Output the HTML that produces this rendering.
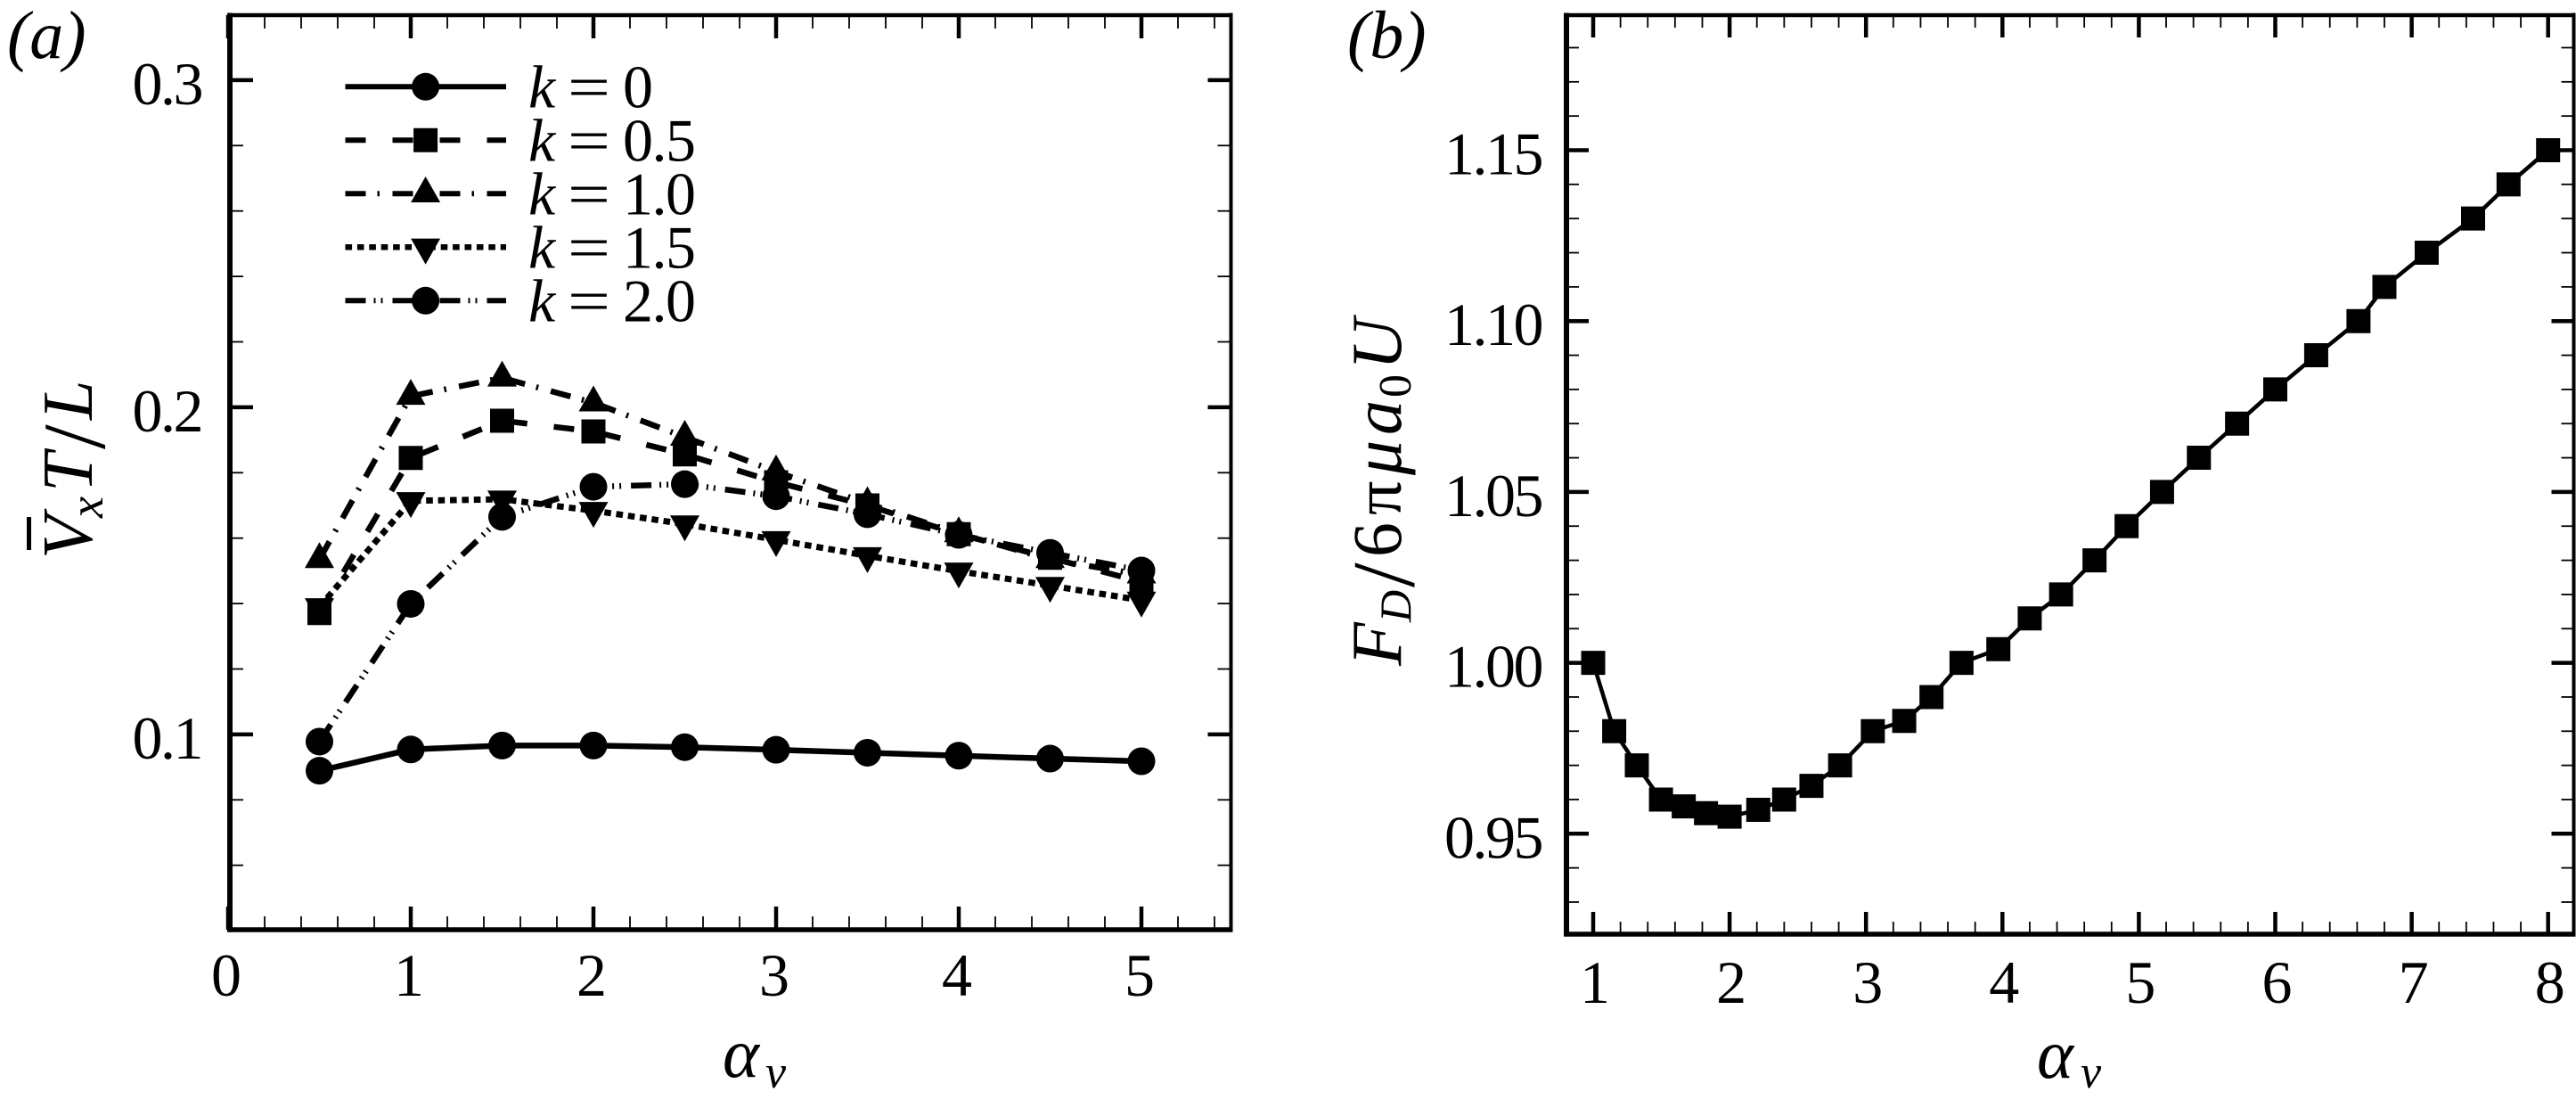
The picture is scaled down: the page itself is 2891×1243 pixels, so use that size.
<!DOCTYPE html>
<html lang="en">
<head>
<meta charset="utf-8">
<title>Swimmer velocity and drag versus alpha</title>
<style>
html,body{margin:0;padding:0;background:#fff;}
#figure{display:block;width:2891px;height:1243px;background:#fff;}
text{font-family:"Liberation Serif",serif;fill:#000;}
.it{font-style:italic;}
</style>
</head>
<body>
<svg id="figure" xmlns="http://www.w3.org/2000/svg" width="2891" height="1243" viewBox="0 0 2891 1243">
  <text class="it" x="8" y="65" font-size="76">(a)</text>
  <text class="it" x="1512" y="65" font-size="76">(b)</text>

  <g>
    <text class="it" x="811" y="1208" font-size="78">α</text>
    <text class="it" x="859" y="1220" font-size="52">v</text>
  </g>
  <g>
    <text class="it" x="2286" y="1209" font-size="78">α</text>
    <text class="it" x="2335" y="1220" font-size="52">v</text>
  </g>

  <g transform="translate(103,623) rotate(-90)">
    <text class="it" x="-4" y="0" font-size="80">V</text>
    <rect x="6" y="-73" width="37" height="5" fill="#000"></rect>
    <text class="it" x="42" y="12" font-size="54">x</text>
    <text class="it" x="71" y="0" font-size="80">T</text>
    <text x="119" y="14" font-size="100">/</text>
    <text class="it" x="152" y="0" font-size="80">L</text>
  </g>

  <g transform="translate(1572,749) rotate(-90)">
    <text class="it" x="2" y="0" font-size="80">F</text>
    <text class="it" x="51" y="11" font-size="50">D</text>
    <text x="90" y="14.5" font-size="100">/</text>
    <text x="124" y="0" font-size="78">6</text>
    <text x="171" y="0" font-size="76">π</text>
    <text class="it" x="216" y="0" font-size="78">μ</text>
    <text class="it" x="261" y="0" font-size="78">a</text>
    <text x="303" y="11" font-size="52">0</text>
    <text class="it" x="334" y="0" font-size="80">U</text>
  </g>

  <g id="panel-a"></g>
  <g id="panel-b"></g>
  <g id="legend"></g>
</svg>

<script>
// Panel (a) data
const alphaA = [0.5, 1, 1.5, 2, 2.5, 3, 3.5, 4, 4.5, 5];
const velocityK0  = [0.0889, 0.0954, 0.0966, 0.0966, 0.0961, 0.0953, 0.0944, 0.0935, 0.0926, 0.0918];
const velocityK05 = [0.1371, 0.1845, 0.1959, 0.1926, 0.1856, 0.1771, 0.1700, 0.1612, 0.1540, 0.1466];
const velocityK10 = [0.1535, 0.2034, 0.2090, 0.2014, 0.1909, 0.1803, 0.1706, 0.1614, 0.1535, 0.1488];
const velocityK15 = [0.1390, 0.1714, 0.1719, 0.1684, 0.1643, 0.1595, 0.1546, 0.1499, 0.1455, 0.1410];
const velocityK20 = [0.0978, 0.1399, 0.1665, 0.1757, 0.1765, 0.1728, 0.1673, 0.1610, 0.1555, 0.1501];
const legendLabels = ["0", "0.5", "1.0", "1.5", "2.0"];
const xTicksA = ["0", "1", "2", "3", "4", "5"];
const yTicksA = ["0.1", "0.2", "0.3"];

// Panel (b) data
const alphaB = [1.0, 1.154, 1.32, 1.497, 1.664, 1.827, 2.0, 2.21, 2.40, 2.60, 2.81, 3.05, 3.28, 3.48, 3.70, 3.97, 4.20, 4.43, 4.675, 4.91, 5.17, 5.44, 5.72, 6.0, 6.30, 6.61, 6.80, 7.11, 7.45, 7.71, 8.0];
const dragB  = [1.0, 0.98, 0.97, 0.96, 0.958, 0.956, 0.955, 0.957, 0.96, 0.964, 0.97, 0.98, 0.983, 0.99, 1.0, 1.004, 1.013, 1.02, 1.03, 1.04, 1.05, 1.06, 1.07, 1.08, 1.09, 1.10, 1.11, 1.12, 1.13, 1.14, 1.15];
const xTicksB = ["1", "2", "3", "4", "5", "6", "7", "8"];
const yTicksB = ["0.95", "1.00", "1.05", "1.10", "1.15"];

const NS = "http://www.w3.org/2000/svg";

// Axis functions
function xA(v) { return 256 + 205 * v; }
function yA(v) { return 456.9 - (v - 0.2) * 3670; }
function xB(v) { return 1788 + 153.1 * (v - 1); }
function yB(v) { return 743.6 - (v - 1) * 3834; }

function make(tag, parent, attrs) {
  const node = document.createElementNS(NS, tag);
  for (const key in attrs) node.setAttribute(key, attrs[key]);
  parent.appendChild(node);
  return node;
}

function markerPath(shape, cx, cy) {
  if (shape === "circle") {
    const r = 15.5;
    return "M" + (cx - r) + " " + cy + "A" + r + " " + r + " 0 1 1 " + (cx + r) + " " + cy + "A" + r + " " + r + " 0 1 1 " + (cx - r) + " " + cy + "Z";
  }
  if (shape === "square") {
    const h = 13.5;
    return "M" + (cx - h) + " " + (cy - h) + "H" + (cx + h) + "V" + (cy + h) + "H" + (cx - h) + "Z";
  }
  if (shape === "up") {
    return "M" + cx + " " + (cy - 19.3) + "L" + (cx + 16.5) + " " + (cy + 9.7) + "H" + (cx - 16.5) + "Z";
  }
  return "M" + cx + " " + (cy + 19.3) + "L" + (cx + 16.5) + " " + (cy - 9.7) + "H" + (cx - 16.5) + "Z";
}

function drawFrame(parent, prefix, f) {
  // Ticks, x
  for (let v = f.xMin; v <= f.xMax + 1e-6; v += 0.2) {
    const isMajor = Math.abs(v - Math.round(v)) < 1e-6;
    const px = f.x(v);
    const bottomTick = make("line", parent, {x1: px, x2: px, y1: f.bottom, y2: f.bottom - (isMajor ? f.majorLen : f.minorLen), stroke: "#000", "stroke-width": isMajor ? 4.5 : 1.8});
    
    
    const topTick = make("line", parent, {x1: px, x2: px, y1: f.top, y2: f.top + (isMajor ? f.majorLen : f.minorLen), stroke: "#000", "stroke-width": isMajor ? 4.5 : 1.8});
    
    
  }
  // Ticks, y
  for (let i = f.yMinI; i <= f.yMaxI; i++) {
    const v = i * f.yStep;
    const isMajor = i % f.yMajorEvery === 0;
    const py = f.y(v);
    const leftTick = make("line", parent, {x1: f.left, x2: f.left + (isMajor ? f.majorLen : f.minorLen), y1: py, y2: py, stroke: "#000", "stroke-width": isMajor ? 4.5 : 1.8});
    
    
    const rightTick = make("line", parent, {x1: f.right, x2: f.right - (isMajor ? f.majorLen : f.minorLen), y1: py, y2: py, stroke: "#000", "stroke-width": isMajor ? 4.5 : 1.8});
    
    
  }
  // Frame
  const spineLeft = make("line", parent, {x1: f.left, x2: f.left, y1: f.top - 2.5, y2: f.bottom + 2.5, stroke: "#000", "stroke-width": 6});
  
  
  const spineRight = make("line", parent, {x1: f.right, x2: f.right, y1: f.top - 2.5, y2: f.bottom + 2.5, stroke: "#000", "stroke-width": 4});
  
  
  const spineTop = make("line", parent, {x1: f.left - 3, x2: f.right + 2, y1: f.top, y2: f.top, stroke: "#000", "stroke-width": 4.5});
  
  
  const spineBottom = make("line", parent, {x1: f.left - 3, x2: f.right + 2, y1: f.bottom, y2: f.bottom, stroke: "#000", "stroke-width": 5.5});
  
  
}

function drawTickLabels(parent, xLabels, yLabels, f) {
  xLabels.forEach(function (label) {
    const el = make("text", parent, {x: f.x(Number(label)) + f.xLabelShift, y: f.xLabelY, "font-size": 68, "text-anchor": "middle"});
    
    
    el.textContent = label;
  });
  yLabels.forEach(function (label) {
    const el = make("text", parent, {x: f.yLabelX, y: f.y(Number(label)) + 27, "font-size": 68, "letter-spacing": -2.5, "text-anchor": "end"});
    
    
    el.textContent = label;
  });
}

// Series styles
const seriesStyles = [
  {name: "k-0",   values: velocityK0,  shape: "circle", dash: "",               width: 6.5},
  {name: "k-0-5", values: velocityK05, shape: "square", dash: "23 30",          width: 6.5},
  {name: "k-1-0", values: velocityK10, shape: "up",     dash: "23 13 2.5 14.5", width: 6.5},
  {name: "k-1-5", values: velocityK15, shape: "down",   dash: "7.6 5.8",        width: 7},
  {name: "k-2-0", values: velocityK20, shape: "circle", dash: "23 9 2 6 2 11",  width: 6.5}
];

// Panel (a)
const panelA = document.getElementById("panel-a");
const frameA = {x: xA, y: yA, left: 258, right: 1381.5, top: 17, bottom: 1043, xMin: 0, xMax: 5.4, yMinI: 3, yMaxI: 15, yStep: 0.02, yMajorEvery: 5, majorLen: 26, minorLen: 15, xLabelShift: -2, xLabelY: 1117, yLabelX: 226};
drawFrame(panelA, "a", frameA);
drawTickLabels(panelA, xTicksA, yTicksA, frameA);

seriesStyles.forEach(function (s) {
  const group = make("g", panelA, {});
  
  
  const points = alphaA.map(function (a, i) { return xA(a) + "," + yA(s.values[i]); }).join(" ");
  const line = make("polyline", group, {points: points, fill: "none", stroke: "#000", "stroke-width": s.width, "stroke-linejoin": "miter"});
  if (s.dash) line.setAttribute("stroke-dasharray", s.dash);
  
  
  alphaA.forEach(function (a, i) {
    const marker = make("path", group, {d: markerPath(s.shape, xA(a), yA(s.values[i])), fill: "#000"});
    
    
  });
});

// Legend
const legend = document.getElementById("legend");
seriesStyles.forEach(function (s, i) {
  const rowY = 97.3 + i * 60;
  const row = make("g", legend, {});
  
  
  const sample = make("line", row, {x1: 387.5, x2: 568, y1: rowY, y2: rowY, stroke: "#000", "stroke-width": s.width - 0.5});
  if (s.dash) sample.setAttribute("stroke-dasharray", s.dash);
  
  
  const swatch = make("path", row, {d: markerPath(s.shape, 477.6, rowY), fill: "#000"});
  
  
  const kText = make("text", row, {x: 593, y: rowY + 23, "font-size": 68, "font-style": "italic"});
  
  
  kText.textContent = "k";
  const eqText = make("text", row, {x: 637, y: rowY + 23, "font-size": 68, textLength: 48, lengthAdjust: "spacingAndGlyphs"});
  
  
  eqText.textContent = "=";
  const valText = make("text", row, {x: 699, y: rowY + 23, "font-size": 68, "letter-spacing": -1.5});
  
  
  valText.textContent = legendLabels[i];
});

// Panel (b)
const panelB = document.getElementById("panel-b");
const frameB = {x: xB, y: yB, left: 1758, right: 2888.5, top: 17, bottom: 1048, xMin: 1, xMax: 8.1, yMinI: 93, yMaxI: 118, yStep: 0.01, yMajorEvery: 5, majorLen: 25, minorLen: 14, xLabelShift: 2, xLabelY: 1125, yLabelX: 1730};
drawFrame(panelB, "b", frameB);
drawTickLabels(panelB, xTicksB, yTicksB, frameB);

const dragGroup = make("g", panelB, {});


const dragLine = make("polyline", dragGroup, {points: alphaB.map(function (a, i) { return xB(a) + "," + yB(dragB[i]); }).join(" "), fill: "none", stroke: "#000", "stroke-width": 4.5});


alphaB.forEach(function (a, i) {
  const marker = make("path", dragGroup, {d: markerPath("square", xB(a), yB(dragB[i])), fill: "#000"});
  
  
});
</script>
</body>
</html>
